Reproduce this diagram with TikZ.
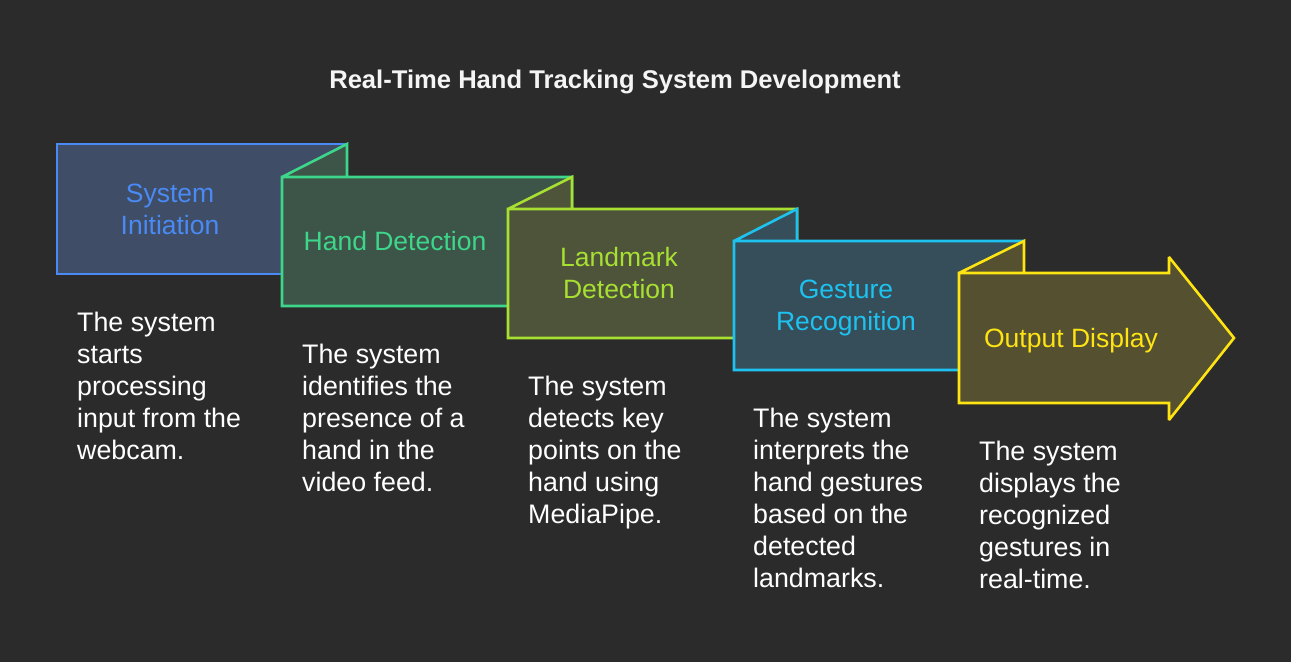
\documentclass[tikz,border=0pt]{standalone}
\usepackage{fontspec}
\setmainfont{Liberation Sans}
\definecolor{bg}{HTML}{2B2B2B}
\definecolor{titlecol}{HTML}{F5F5F5}
\definecolor{strokeA}{HTML}{4A8AF4}\definecolor{fillA}{HTML}{3F4D66}
\definecolor{strokeB}{HTML}{3ED68A}\definecolor{fillB}{HTML}{3C5548}
\definecolor{strokeC}{HTML}{A8E032}\definecolor{fillC}{HTML}{4D543A}
\definecolor{strokeD}{HTML}{1EC2F0}\definecolor{fillD}{HTML}{354E59}
\definecolor{strokeE}{HTML}{FFE414}\definecolor{fillE}{HTML}{545030}
\tikzset{
  panel/.style={line width=2.6pt, line join=miter, miter limit=2},
  label/.style={inner sep=0pt, align=center, font=\fontsize{26.5}{32}\selectfont},
  desc/.style={inner sep=0pt, align=left, anchor=north west, text=white,
    font=\fontsize{26.8}{32}\selectfont},
}
\begin{document}
\begin{tikzpicture}[x=1pt,y=-1pt]
  \fill[bg] (0,0) rectangle (1291,662);
  \useasboundingbox (0,0) rectangle (1291,662);

  % title
  \node[anchor=base, inner sep=0pt, text=titlecol, font=\fontsize{25.6}{30}\selectfont\bfseries]
    (title) at (615,88.5) {Real-Time Hand Tracking System Development};

  % stage 1: plain panel
  \filldraw[panel, draw=strokeA, fill=fillA] (57,144) rectangle (347,274);

  % stages 2-4: panels with a folded corner over the previous one
  \filldraw[panel, draw=strokeB, fill=fillB]
    (282,177) -- (347,144) -- (347,177) -- cycle (282,177) rectangle (572,306);
  \filldraw[panel, draw=strokeC, fill=fillC]
    (508,209) -- (572,177) -- (572,209) -- cycle (508,209) rectangle (797,338);
  \filldraw[panel, draw=strokeD, fill=fillD]
    (734,241) -- (797,209) -- (797,241) -- cycle (734,241) rectangle (1023,370);

  % stage 5: arrow-shaped panel
  \filldraw[panel, draw=strokeE, fill=fillE]
    (959,273) -- (1024,241) -- (1024,273) -- cycle
    (959,273) -- (1169,273) -- (1169,257) -- (1234,338) -- (1169,420)
    -- (1169,403) -- (959,403) -- cycle;

  % panel labels
  \node[label, text=strokeA] (l1) at (170,209) {System\\Initiation};
  \node[label, text=strokeB] (l2) at (395,241.5) {Hand Detection};
  \node[label, text=strokeC] (l3) at (619,273) {Landmark\\Detection};
  \node[label, text=strokeD] (l4) at (846,308) {Gesture\\Recognition};
  \node[label, text=strokeE] (l5) at (1071,340.5) {Output Display};

  % descriptions
  \node[desc] (d1) at (77,311.5) {The system\\starts\\processing\\input from the\\webcam.};
  \node[desc] (d2) at (302,343.5) {The system\\identifies the\\presence of a\\hand in the\\video feed.};
  \node[desc] (d3) at (528,375.5) {The system\\detects key\\points on the\\hand using\\MediaPipe.};
  \node[desc] (d4) at (753,407.5) {The system\\interprets the\\hand gestures\\based on the\\detected\\landmarks.};
  \node[desc] (d5) at (979,440.5) {The system\\displays the\\recognized\\gestures in\\real-time.};
\end{tikzpicture}
\end{document}
